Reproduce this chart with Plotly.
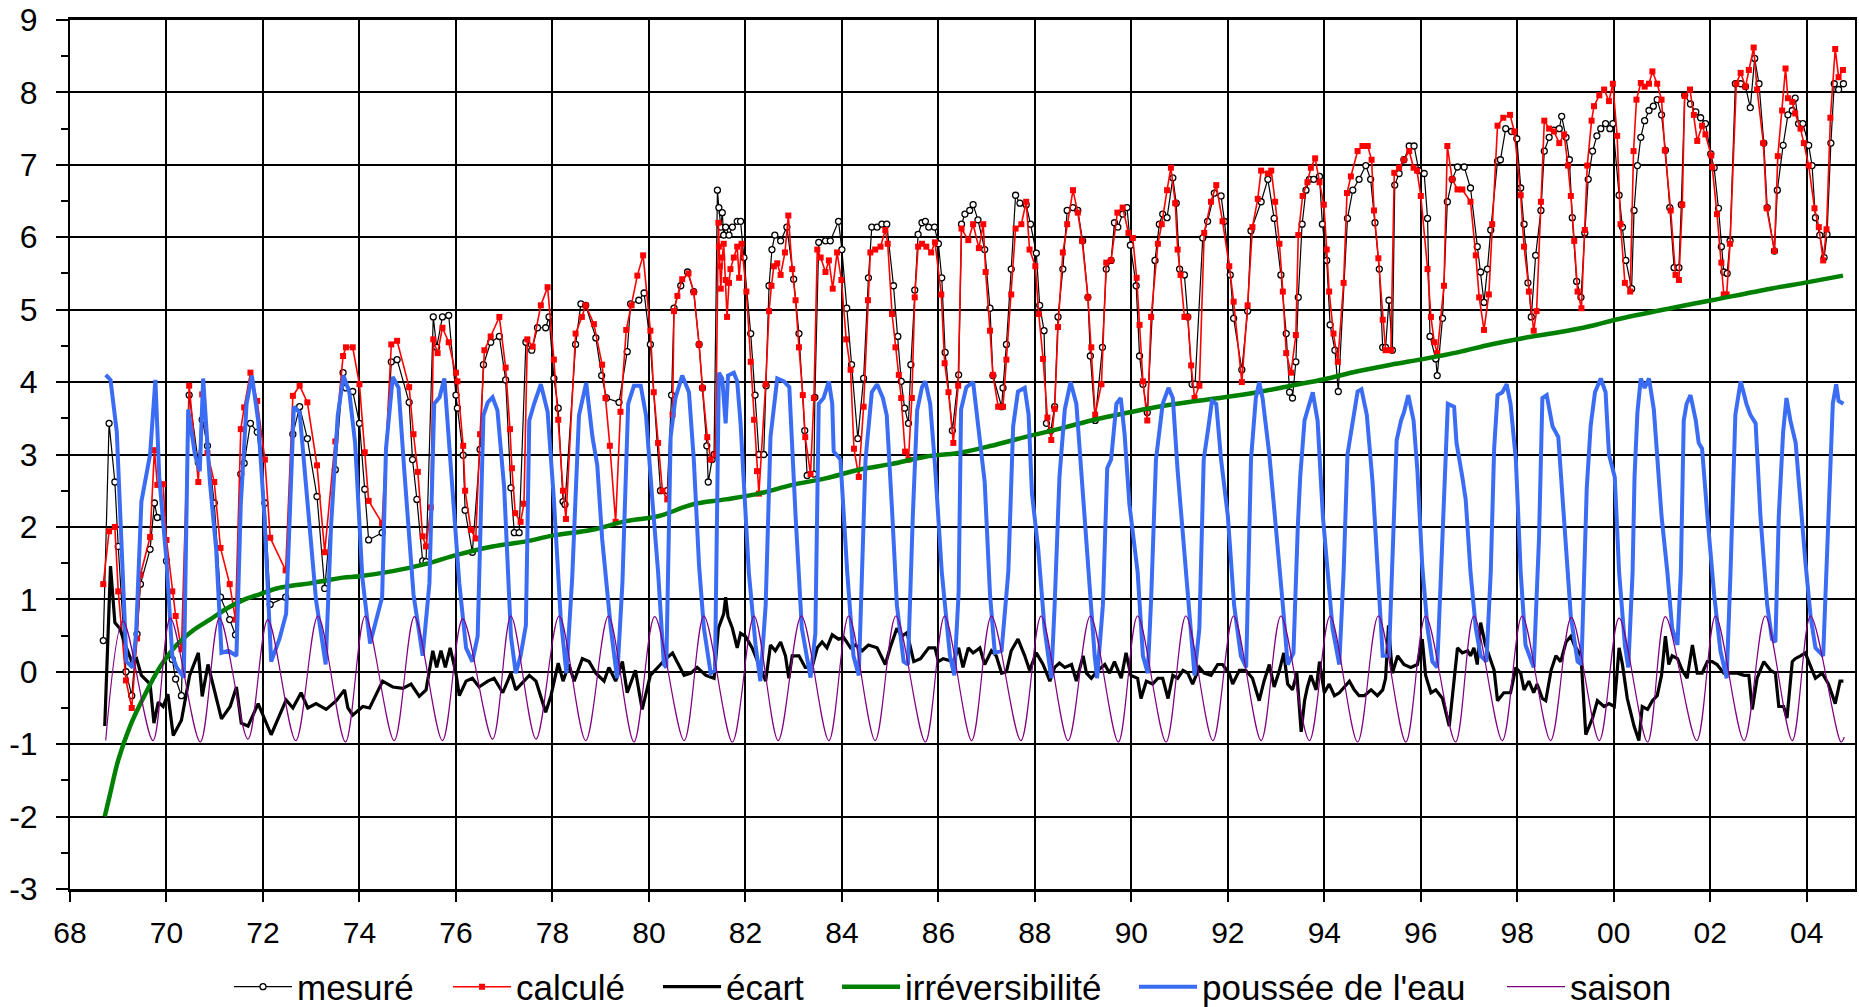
import plotly.graph_objects as go

# ---------------- data ----------------
t_mesure = [68.69, 68.81, 68.93, 69.0, 69.16, 69.28, 69.39, 69.46, 69.66, 69.75, 69.81, 69.93, 70.0, 70.12, 70.19, 70.31,
            70.47, 70.66, 70.74, 70.85, 70.99, 71.12, 71.31, 71.43, 71.54, 71.61, 71.74, 71.88, 72.04, 72.15, 72.47, 72.62,
            72.76, 72.92, 73.12, 73.28, 73.5, 73.66, 73.72, 73.86, 74.0, 74.11,
            74.19, 74.47, 74.66, 74.78, 75.03, 75.1, 75.19, 75.31, 75.38, 75.53, 75.6, 75.72, 75.85, 76.0, 76.03, 76.15,
            76.19, 76.34, 76.5, 76.57, 76.72, 76.9, 77.03, 77.14, 77.21, 77.31, 77.45, 77.57, 77.69, 77.86, 77.93, 78.03,
            78.12, 78.22, 78.26, 78.48, 78.59, 78.69, 78.9, 79.02, 79.12, 79.38, 79.55, 79.62, 79.79, 79.9, 80.03, 80.24, 80.38,
            80.47, 80.52, 80.66, 80.8, 80.93, 81.04, 81.11, 81.2, 81.23, 81.31, 81.35, 81.42, 81.45, 81.49, 81.52, 81.55,
            81.59, 81.66, 81.73, 81.83, 81.9, 81.97, 82.11, 82.2, 82.28, 82.38, 82.43, 82.49, 82.55, 82.61, 82.73, 82.86,
            83.0, 83.11, 83.23, 83.28, 83.42, 83.44, 83.52, 83.66, 83.76, 83.93, 84.0, 84.1, 84.2, 84.33, 84.45, 84.55,
            84.62, 84.73, 84.83, 84.93, 85.07, 85.16, 85.23, 85.3, 85.38, 85.43, 85.51, 85.58, 85.66, 85.73, 85.8, 85.92,
            86.0, 86.07, 86.14, 86.29,
            86.42, 86.48, 86.55, 86.65, 86.72, 86.82, 86.96, 87.07, 87.13, 87.31, 87.34, 87.41, 87.51, 87.6, 87.69, 87.82,
            87.91, 88.03, 88.1, 88.19, 88.24, 88.33, 88.41, 88.48, 88.58, 88.67, 88.79, 88.89, 88.99, 89.1, 89.15, 89.25,
            89.4, 89.48, 89.58, 89.65, 89.72, 89.82, 89.91, 89.98, 90.1, 90.17, 90.24, 90.33, 90.49, 90.58, 90.65, 90.74,
            90.86, 90.93, 91.0, 91.1, 91.17, 91.26, 91.32, 91.48, 91.58, 91.72, 91.86, 91.93, 92.05, 92.12, 92.29, 92.41, 92.48,
            92.69, 92.83, 92.96, 93.1, 93.21, 93.28, 93.34, 93.41, 93.46, 93.54, 93.62, 93.69, 93.78, 93.9, 93.96, 94.05,
            94.12, 94.22, 94.29, 94.48, 94.59, 94.72, 94.86, 94.96, 95.05, 95.14, 95.21, 95.27, 95.34, 95.41, 95.46, 95.55,
            95.65, 95.76, 95.86, 95.96, 96.07, 96.14, 96.19, 96.31, 96.34, 96.45, 96.55, 96.65, 96.76, 96.9, 97.03, 97.17,
            97.24, 97.31, 97.38, 97.45, 97.59, 97.65, 97.76, 97.88, 97.99, 98.07, 98.14, 98.22, 98.29, 98.38,
            98.49, 98.56, 98.66, 98.76, 98.87, 98.92, 99.01, 99.08, 99.14, 99.23, 99.32, 99.4, 99.47, 99.56, 99.65, 99.73,
            99.83, 99.92, 99.98, 100.11, 100.18, 100.25, 100.37, 100.42, 100.49, 100.56, 100.64, 100.73, 100.82, 100.9,
            100.99, 101.07, 101.16, 101.25, 101.35, 101.4, 101.47, 101.59, 101.7, 101.8, 101.9, 102.01, 102.08, 102.17,
            102.23, 102.28, 102.35, 102.41, 102.52, 102.63, 102.73, 102.83, 102.92, 103.01, 103.11, 103.18, 103.33, 103.39,
            103.51, 103.61, 103.7, 103.76, 103.83, 103.92, 104.04, 104.11, 104.18, 104.27, 104.36, 104.42, 104.5, 104.57,
            104.66, 104.76]
mesure = [0.43, 3.43, 2.62, 1.73, 0.0, -0.33, 0.52, 1.21, 1.69, 2.33, 2.13, 2.13, 1.53, 0.17, -0.1, -0.33,
          3.82, 2.89, 3.48, 3.12, 2.33, 1.03, 0.72, 0.51, 2.73, 2.88, 3.43, 3.31, 2.33, 0.93, 1.03, 3.28,
          3.66, 3.22, 2.42, 1.15, 2.79, 4.13, 3.92, 3.87, 3.43, 2.52,
          1.82, 1.92, 4.28, 4.31, 3.72, 2.93, 2.38, 1.53, 1.52, 4.9, 4.48, 4.9, 4.92, 3.82, 3.64, 2.99,
          2.23, 1.65, 3.07, 4.24, 4.55, 4.63, 4.03, 2.54, 1.92, 1.92, 4.55, 4.44, 4.75, 4.75, 4.9, 4.05,
          3.64, 2.35, 2.31, 4.52, 5.08, 5.06, 4.61, 4.09, 3.78, 3.72, 4.42, 5.08, 5.13, 5.23, 4.52, 2.5, 2.5,
          3.82, 5.02, 5.33, 5.52, 5.25, 4.52, 3.92, 3.12, 2.62, 2.93, 3.0, 6.65, 6.41, 6.14, 6.34, 6.03,
          6.14, 6.03, 6.14, 6.22, 6.22, 5.72, 4.67, 3.82, 3.0, 3.0, 3.95, 5.33, 5.83, 6.03, 5.95, 6.14,
          5.42, 4.67, 3.33, 2.71, 2.73, 3.79, 5.93, 5.95, 5.95, 6.22, 5.83, 5.02, 4.24, 3.22, 4.05, 5.44,
          6.14, 6.14, 6.18, 6.18, 5.33, 4.63, 4.01, 3.64, 3.43, 4.24, 5.27, 6.04, 6.2, 6.22, 6.14, 6.14,
          5.91, 5.44, 4.41, 3.33,
          4.1, 6.18, 6.32, 6.37, 6.45, 6.24, 5.83, 5.02, 4.09, 3.66, 3.92, 4.52, 5.56, 6.58, 6.47, 6.45,
          6.18, 5.78, 5.06, 4.71, 3.43, 3.33, 3.66, 4.9, 5.56, 6.37, 6.41, 6.37, 5.95, 5.17, 4.36, 3.47,
          4.48, 5.56, 5.68, 6.2, 6.14, 6.32, 6.41, 5.89, 5.33, 4.36, 3.97, 3.58, 5.68, 6.18, 6.32, 6.27,
          6.82, 6.47, 5.56, 5.48, 4.9, 3.97, 3.97, 5.99, 6.22, 6.61, 6.57, 6.22, 5.48, 4.88, 4.17, 4.98, 6.09,
          6.49, 6.8, 6.26, 5.48, 4.67, 3.86, 3.78, 4.28, 5.17, 6.18, 6.65, 6.8, 6.8, 6.84, 6.18, 5.68,
          4.79, 4.44, 3.87, 6.26, 6.65, 6.8, 6.99, 6.8, 6.2, 5.56, 4.48, 4.48, 5.13, 4.44, 6.72, 6.88,
          7.07, 7.26, 7.26, 6.92, 6.88, 6.26, 4.63, 4.32, 4.09, 4.88, 6.49, 6.8, 6.97, 6.97, 6.68, 5.87,
          5.52, 5.1, 5.56, 6.1, 7.05, 7.07, 7.5, 7.46, 7.36, 6.68, 6.18, 5.37, 4.9, 5.75,
          6.37, 7.19, 7.38, 7.48, 7.5, 7.67, 7.38, 7.07, 6.27, 5.39, 5.17, 6.06, 6.8, 7.19, 7.4, 7.5,
          7.57, 7.5, 7.57, 6.58, 6.14, 5.68, 5.29, 6.37, 6.99, 7.38, 7.61, 7.75, 7.81, 7.9,
          7.69, 7.2, 6.41, 5.58, 5.58, 6.45, 7.96, 7.84, 7.73, 7.65, 7.57, 7.15, 6.96, 6.4,
          5.87, 5.52, 5.5, 5.95, 8.12, 8.12, 8.08, 7.79, 8.47, 8.12, 7.3, 6.41, 5.81, 6.65,
          7.27, 7.69, 7.75, 7.92, 7.57, 7.57, 7.27, 6.99, 6.27, 6.03, 5.72, 6.04, 7.3, 8.12,
          8.04, 8.12]

t_calcule = [68.69, 68.81, 68.93, 69.0, 69.16, 69.28, 69.39, 69.46, 69.66, 69.75, 69.81, 69.93, 70.0, 70.12, 70.19, 70.31,
             70.47, 70.66, 70.74, 70.85, 70.99, 71.12, 71.31, 71.43, 71.54, 71.61, 71.74, 71.88, 72.04, 72.15, 72.47, 72.62,
             72.76, 72.92, 73.12, 73.28, 73.5, 73.66, 73.72, 73.86, 74.0, 74.11,
             74.19, 74.47, 74.66, 74.78, 75.03, 75.12, 75.21, 75.31, 75.38, 75.48, 75.53, 75.62, 75.72, 75.85, 76.0, 76.03,
             76.15, 76.19, 76.31, 76.41, 76.5, 76.59, 76.72, 76.9, 77.03, 77.12, 77.16, 77.23, 77.34, 77.41, 77.48, 77.59,
             77.76, 77.9, 78.03, 78.12, 78.22, 78.28, 78.48, 78.61, 78.69, 78.86, 79.03, 79.1, 79.19, 79.31, 79.41, 79.53,
             79.64, 79.76, 79.88, 80.03, 80.1, 80.19, 80.28, 80.38,
             80.49, 80.52, 80.59, 80.69, 80.82, 80.93, 81.04, 81.11, 81.21, 81.28, 81.38, 81.44, 81.45, 81.47, 81.49, 81.52,
             81.55, 81.59, 81.62, 81.66, 81.69, 81.76, 81.83, 81.87, 81.92, 82.02, 82.11, 82.18, 82.24, 82.28, 82.42, 82.49,
             82.54, 82.59, 82.66, 82.73, 82.82, 82.89, 82.97, 83.04, 83.11, 83.19, 83.24, 83.35, 83.42, 83.49, 83.56, 83.66,
             83.73, 83.81, 83.9, 83.99, 84.09, 84.18, 84.25, 84.35, 84.45, 84.54, 84.59, 84.69, 84.8, 84.9, 84.95, 85.04,
             85.11, 85.18, 85.23, 85.31, 85.38, 85.45, 85.51, 85.58, 85.66, 85.75, 85.85, 85.93, 86.06, 86.13, 86.21, 86.31,
             86.41, 86.48, 86.62, 86.72, 86.84, 86.93, 86.98, 87.07, 87.13, 87.24, 87.34, 87.41, 87.51, 87.6, 87.72, 87.82,
             87.89, 88.01, 88.08, 88.17, 88.26, 88.34, 88.41, 88.48, 88.58, 88.67, 88.79, 88.89, 88.98, 89.1, 89.17, 89.25,
             89.38, 89.48, 89.58, 89.71, 89.82, 89.94, 90.03, 90.11, 90.17, 90.24, 90.33, 90.41, 90.55, 90.63, 90.74, 90.82,
             90.91, 90.96, 91.02, 91.1, 91.17, 91.24, 91.31, 91.41, 91.51, 91.65, 91.76, 91.89, 92.03, 92.12, 92.29, 92.41,
             92.51, 92.62, 92.69, 92.83, 92.9, 92.98, 93.07, 93.14, 93.21, 93.31, 93.41, 93.46, 93.55, 93.65, 93.72, 93.81,
             93.9, 93.99, 94.05, 94.1, 94.19, 94.28, 94.4, 94.47, 94.55, 94.69, 94.79, 94.9, 94.98, 95.03, 95.12, 95.21,
             95.27, 95.38, 95.45, 95.55, 95.65, 95.76, 95.85, 95.92, 96.0, 96.14, 96.21, 96.28, 96.34, 96.48, 96.55, 96.65,
             96.76, 96.86, 97.03, 97.14, 97.21, 97.31, 97.41, 97.48, 97.59, 97.71, 97.85, 97.94, 98.07, 98.14, 98.24, 98.34, 98.4,
             98.49, 98.56, 98.66, 98.76, 98.87, 98.97, 99.05, 99.11, 99.18, 99.25, 99.33, 99.4, 99.45, 99.54, 99.59, 99.7,
             99.8, 99.9, 99.98, 100.07, 100.14, 100.23, 100.34, 100.41, 100.47, 100.56, 100.64, 100.73, 100.8, 100.9,
             100.99, 101.06, 101.18, 101.28, 101.35, 101.42, 101.47, 101.58, 101.66, 101.73, 101.83, 101.9, 102.02, 102.04,
             102.14, 102.23, 102.28, 102.34, 102.41, 102.54, 102.63, 102.73, 102.8, 102.9, 102.97, 103.1, 103.17, 103.33,
             103.4, 103.49, 103.56, 103.61, 103.7, 103.76, 103.87, 103.94, 104.04, 104.16, 104.25, 104.34, 104.41, 104.49,
             104.59, 104.66, 104.75]
calcule = [1.21, 1.94, 2.0, 1.11, -0.12, -0.5, 0.46, 1.34, 1.86, 3.06, 2.58, 2.59, 1.82, 1.11, 0.77, 0.31,
           3.95, 2.62, 3.83, 3.02, 2.62, 1.71, 1.21, 0.72, 3.35, 3.65, 4.13, 3.74, 2.93, 1.85, 1.4, 3.81,
           3.95, 3.72, 2.85, 1.65, 3.18, 4.36, 4.48, 4.48, 3.97, 3.03,
           2.36, 2.05, 4.52, 4.57, 3.93, 3.28, 2.76, 1.87, 1.73, 2.27, 4.59, 4.4, 4.75, 4.55, 4.13, 4.01,
           3.12, 2.5, 1.96, 1.84, 3.28, 4.44, 4.63, 4.9, 4.2, 3.35, 2.81, 2.19, 2.07, 2.32, 4.59, 4.49,
           5.06, 5.31, 4.31, 3.48, 2.5, 2.11, 4.67, 4.9, 5.06, 4.8, 4.24, 3.78, 3.12, 2.07, 3.59, 4.72,
           5.06, 5.47, 5.75, 4.71, 3.86, 3.16, 2.5, 2.38,
           3.55, 4.98, 5.19, 5.42, 5.5, 5.24, 4.52, 3.92, 3.24, 2.93, 3.0, 6.2, 5.87, 5.6, 5.29, 5.72,
           5.91, 5.41, 4.9, 5.37, 5.56, 5.72, 5.87, 5.44, 5.91, 5.25, 4.28, 3.48, 2.77, 2.46, 3.97, 4.98,
           5.33, 5.6, 5.64, 5.48, 5.79, 6.3, 5.56, 5.13, 4.48, 3.82, 3.24, 2.73, 3.78, 5.83, 5.72, 5.52,
           5.68, 5.29, 5.79, 5.41, 4.59, 4.17, 3.08, 2.69, 3.66, 5.13, 5.79, 5.83, 5.87, 6.1, 5.91, 4.94,
           4.48, 4.1, 3.78, 3.04, 2.93, 3.78, 5.17, 5.87, 5.91, 5.87, 5.79, 5.93, 5.21, 4.26, 3.86, 3.16,
           3.95, 6.12, 5.96, 6.18, 5.85, 6.18, 5.52, 4.71, 4.1, 3.66, 3.66, 4.31, 5.21, 6.12, 6.18, 6.49,
           5.83, 5.6, 4.94, 4.32, 3.51, 3.2, 3.63, 4.76, 5.79, 6.18, 6.65, 6.34, 5.95, 5.17, 4.48, 3.55,
           3.97, 5.65, 5.68, 6.34, 6.41, 6.06, 5.99, 5.44, 4.79, 4.01, 3.47, 4.9, 5.91, 6.18, 6.65, 6.96,
           6.47, 5.83, 5.48, 4.9, 4.9, 4.23, 3.78, 3.95, 6.06, 6.49, 6.72, 6.22, 5.6, 5.11, 4.0, 5.06,
           6.14, 6.53, 6.92, 6.88, 6.92, 6.49, 5.91, 5.25, 4.4, 4.13, 4.65, 6.03, 6.57, 6.76, 6.96, 7.09,
           6.76, 6.45, 5.83, 5.25, 4.67, 4.28, 5.37, 6.61, 6.84, 7.19, 7.26, 7.26, 7.07, 6.37, 5.71, 4.86,
           4.44, 4.44, 6.89, 6.96, 7.07, 7.19, 6.96, 6.92, 6.57, 5.56, 4.9, 4.55, 4.4, 5.33, 7.26, 6.8,
           6.66, 6.66, 6.49, 5.75, 5.17, 4.72, 5.21, 6.18, 7.54, 7.65, 7.69, 7.46, 6.58, 5.87, 5.25, 4.71, 4.98,
           6.49, 7.61, 7.5, 7.46, 7.3, 7.42, 6.99, 6.57, 5.95, 5.25, 5.02, 6.1, 6.99, 7.61, 7.81, 7.96,
           8.04, 7.88, 8.12, 7.4, 6.18, 5.37, 5.25, 7.19, 7.9, 8.13, 8.08, 8.12, 8.29, 8.12,
           7.9, 7.2, 6.37, 5.48, 5.41, 6.45, 7.95, 8.04, 7.69, 7.33, 7.54, 7.42, 7.13, 6.97,
           6.32, 5.65, 5.21, 5.21, 5.91, 8.12, 8.27, 8.08, 8.31, 8.62, 8.04, 7.3, 6.4, 5.81,
           7.12, 7.75, 8.33, 7.92, 7.87, 7.71, 7.5, 7.3, 6.99, 6.4, 6.14, 5.68, 6.11, 7.65,
           8.6, 8.21, 8.31]

t_ecart = [68.72, 68.84, 68.93, 69.03, 69.17, 69.28, 69.38, 69.48, 69.66, 69.74, 69.83, 69.93, 70.03, 70.14, 70.31, 70.48,
           70.66, 70.74, 70.86, 70.99, 71.14, 71.32, 71.45, 71.55, 71.69, 71.9, 72.03, 72.17, 72.48, 72.62, 72.79, 72.93,
           73.1, 73.31, 73.52, 73.69, 73.76, 73.86, 74.07, 74.21, 74.48, 74.69, 74.9, 75.07, 75.24, 75.38, 75.52, 75.6,
           75.69, 75.78, 75.88, 76.0, 76.07, 76.21, 76.34, 76.48, 76.66, 76.79, 76.97, 77.14, 77.24, 77.52, 77.66, 77.86,
           77.97, 78.12, 78.22, 78.34, 78.45, 78.62, 78.76, 78.9, 79.07, 79.17, 79.31, 79.45, 79.55, 79.72, 79.86, 80.03,
           80.24, 80.35, 80.49, 80.59, 80.73, 80.87, 81.0, 81.18, 81.35, 81.44, 81.49, 81.55, 81.59, 81.64, 81.73, 81.83,
           81.9, 82.0, 82.14, 82.28, 82.42, 82.52, 82.62, 82.73, 82.83, 82.9, 82.97, 83.11, 83.24, 83.38, 83.49, 83.59,
           83.69, 83.8, 83.93, 84.04, 84.18, 84.28, 84.42, 84.55, 84.73, 84.9, 85.0, 85.14, 85.24, 85.35, 85.49, 85.63,
           85.8, 85.93, 86.0, 86.1, 86.31, 86.42, 86.51, 86.62, 86.72, 86.86, 86.96, 87.1, 87.2, 87.31, 87.41, 87.51,
           87.65, 87.79, 87.89, 88.03, 88.17, 88.31, 88.41, 88.51, 88.62, 88.76, 88.86, 89.0, 89.07, 89.17, 89.31, 89.45,
           89.55, 89.65, 89.79, 89.89, 89.99, 90.13, 90.2, 90.31, 90.44, 90.55, 90.65, 90.76, 90.86, 90.96, 91.07, 91.17,
           91.27, 91.41, 91.51, 91.65, 91.79, 91.89, 92.03, 92.1, 92.24, 92.37, 92.51, 92.65, 92.75, 92.86, 92.96, 93.07,
           93.16, 93.24, 93.34, 93.43, 93.52, 93.59, 93.65, 93.72, 93.83, 93.9, 94.0, 94.1, 94.21, 94.31, 94.41, 94.52,
           94.62, 94.72, 94.83, 94.97, 95.1, 95.21, 95.27, 95.33, 95.41, 95.52, 95.65, 95.79, 95.93, 96.03, 96.1, 96.21,
           96.31, 96.45, 96.59, 96.69, 96.76, 96.86, 96.97, 97.03, 97.1, 97.17, 97.24, 97.34, 97.45, 97.52, 97.59, 97.72,
           97.86, 97.97, 98.07, 98.14, 98.24, 98.34, 98.41, 98.52, 98.59, 98.7, 98.8, 98.9, 99.01, 99.11, 99.18, 99.32,
           99.42, 99.56, 99.66, 99.8, 99.9, 100.01, 100.11, 100.18, 100.28, 100.42, 100.52, 100.59, 100.7, 100.8, 100.9,
           100.99, 101.07, 101.14, 101.21, 101.32, 101.42, 101.52, 101.63, 101.73, 101.83, 101.94, 102.04, 102.14, 102.28,
           102.42, 102.56, 102.7, 102.8, 102.87, 102.97, 103.11, 103.25, 103.35, 103.42, 103.52, 103.59, 103.7, 103.76,
           103.87, 103.97, 104.04, 104.18, 104.32, 104.45, 104.59, 104.69, 104.76]
ecart = [-0.75, 1.46, 0.68, 0.6, 0.33, 0.14, 0.18, -0.05, -0.17, -0.71, -0.42, -0.48, -0.31, -0.88, -0.67, -0.05,
         0.26, -0.34, 0.1, -0.25, -0.65, -0.48, -0.21, -0.71, -0.75, -0.44, -0.64, -0.87, -0.39, -0.5, -0.29, -0.5,
         -0.44, -0.52, -0.4, -0.25, -0.5, -0.6, -0.48, -0.5, -0.13, -0.21, -0.23, -0.17, -0.34, -0.25, 0.29, 0.06,
         0.29, 0.06, 0.33, -0.02, -0.33, -0.13, -0.09, -0.21, -0.13, -0.09, -0.29, -0.02, -0.25, -0.05, -0.13, -0.56,
         -0.33, 0.12, -0.13, 0.1, -0.13, 0.18, 0.14, -0.02, -0.13, 0.06, -0.13, 0.14, -0.29, 0.02, -0.52, -0.05,
         0.1, 0.18, 0.26, 0.14, -0.05, -0.02, 0.06, -0.05, -0.09, 0.6, 0.68, 0.8, 1.03, 0.76, 0.6, 0.33,
         0.53, 0.49, 0.33, 0.1, -0.13, 0.37, 0.29, 0.41, 0.22, -0.09, 0.22, 0.22, 0.06, 0.06, 0.33, 0.41,
         0.33, 0.51, 0.45, 0.47, 0.33, 0.37, 0.29, 0.37, 0.33, 0.1, 0.33, 0.6, 0.49, 0.54, 0.14, 0.18,
         0.33, 0.33, 0.14, 0.18, 0.14, 0.33, 0.06, 0.33, 0.26, 0.33, 0.1, 0.29, 0.22, -0.02, 0.0, 0.29,
         0.45, 0.22, 0.02, 0.26, 0.1, -0.13, 0.06, 0.12, 0.06, 0.1, -0.13, 0.22, -0.02, -0.09, 0.02, 0.1,
         -0.02, 0.14, -0.09, 0.26, -0.05, -0.09, -0.37, -0.13, -0.17, -0.09, -0.09, -0.37, -0.05, -0.09, 0.02, -0.02,
         -0.17, 0.06, -0.02, -0.05, 0.1, 0.1, -0.02, -0.17, 0.02, 0.02, -0.09, -0.4, -0.13, 0.1, -0.21, 0.02,
         0.26, -0.17, -0.25, -0.02, -0.83, -0.4, -0.21, -0.05, -0.25, 0.14, -0.29, -0.17, -0.33, -0.29, -0.21, -0.13,
         -0.25, -0.33, -0.33, -0.25, -0.33, -0.25, -0.09, 0.64, -0.02, 0.22, 0.1, 0.06, 0.1, 0.45, -0.05, -0.29,
         -0.25, -0.37, -0.75, -0.09, 0.33, 0.26, 0.29, 0.22, 0.33, 0.1, 0.68, 0.37, 0.14, 0.02, -0.4, -0.29,
         -0.29, 0.06, -0.02, -0.25, -0.13, -0.29, -0.17, -0.37, -0.4, 0.02, 0.22, 0.14, 0.41, 0.49, 0.37, 0.22,
         -0.87, -0.64, -0.4, -0.48, -0.44, -0.48, 0.33, 0.1, -0.37, -0.75, -0.95, -0.48, -0.52, -0.4, -0.33,
         -0.05, 0.49, 0.1, 0.22, 0.18, 0.02, -0.09, 0.37, -0.02, -0.02, 0.14, 0.14, 0.1, -0.02,
         -0.02, -0.02, -0.05, -0.05, -0.52, -0.09, 0.14, 0.02, -0.02, -0.48, -0.48, -0.64, 0.14, 0.18,
         0.22, 0.26, 0.14, -0.09, -0.02, -0.17, -0.44, -0.13, -0.13]

t_irrev = [68.72, 68.83, 69.0, 69.24, 69.52, 69.86, 70.21, 70.55, 70.9, 71.24, 71.59, 71.93, 72.28, 72.62, 72.97, 73.31,
           73.66, 74.0, 74.69, 75.38, 76.0, 76.76, 77.45, 78.0, 78.83, 79.52, 80.21, 80.9, 81.59, 82.28, 82.97, 83.66,
           84.35, 85.04, 85.73, 86.41, 87.1, 87.79, 88.48, 89.17, 89.86, 90.55, 91.24, 91.93, 92.62, 93.31, 94.0, 94.69,
           95.38, 96.07, 96.76, 97.45, 98.14, 98.8, 99.5, 100.03, 101.18, 102.03, 103.25, 104.03, 104.75]
irrev = [-2.0, -1.69, -1.22, -0.76, -0.36, 0.06, 0.37, 0.57, 0.72, 0.87, 0.99, 1.07, 1.15, 1.19, 1.22, 1.26,
         1.3, 1.32, 1.39, 1.49, 1.61, 1.73, 1.8, 1.88, 1.96, 2.08, 2.15, 2.31, 2.38, 2.46, 2.58, 2.67,
         2.79, 2.87, 2.97, 3.02, 3.12, 3.24, 3.35, 3.47, 3.57, 3.66, 3.73, 3.79, 3.86, 3.95, 4.04, 4.15,
         4.24, 4.32, 4.41, 4.52, 4.61, 4.68, 4.77, 4.86, 5.02, 5.13, 5.29, 5.38, 5.47]

t_eau = [68.74, 68.84, 68.97, 69.07, 69.17, 69.3, 69.37, 69.48, 69.66, 69.77, 69.85, 70.0, 70.12, 70.21, 70.36, 70.45,
         70.59, 70.69, 70.76, 70.9, 71.03, 71.14, 71.28, 71.45, 71.54, 71.66, 71.77, 71.9, 72.03, 72.17, 72.34, 72.48,
         72.64, 72.76, 72.93, 73.1, 73.3, 73.41, 73.55, 73.67, 73.79, 73.91, 74.06, 74.22,
         74.47, 74.55, 74.69, 74.81, 74.93, 75.12, 75.31, 75.45, 75.55, 75.66, 75.76, 75.9, 76.07, 76.21, 76.34, 76.45,
         76.57, 76.66, 76.76, 76.86, 77.0, 77.14, 77.24, 77.34, 77.45, 77.52, 77.62, 77.76, 77.9, 78.03, 78.17, 78.29,
         78.41, 78.55, 78.7, 78.83, 78.93, 79.03, 79.21, 79.34, 79.45, 79.57, 79.69, 79.83, 79.94, 80.07, 80.19, 80.31,
         80.36, 80.45, 80.55, 80.69, 80.83, 80.93, 81.04, 81.14, 81.28, 81.37, 81.45, 81.52, 81.59, 81.64, 81.76, 81.83,
         81.9, 82.07, 82.21, 82.31, 82.42, 82.52, 82.59, 82.66, 82.8, 82.91, 83.04, 83.17, 83.35, 83.45, 83.52, 83.62,
         83.73, 83.8, 83.83, 83.97, 84.11, 84.24, 84.35, 84.49, 84.62, 84.73, 84.85, 84.93, 85.04, 85.14, 85.28, 85.37,
         85.47, 85.56, 85.66, 85.73, 85.83, 85.93, 86.07, 86.24, 86.33,
         86.42, 86.47, 86.58, 86.72, 86.82, 86.96, 87.07, 87.17, 87.31, 87.45, 87.55, 87.65, 87.79, 87.87, 87.94, 88.07,
         88.2, 88.34, 88.41, 88.51, 88.62, 88.74, 88.86, 88.96, 89.1, 89.24, 89.29, 89.41, 89.5, 89.58, 89.69, 89.78,
         89.86, 89.96, 90.13, 90.24, 90.34, 90.41, 90.51, 90.65, 90.77, 90.86, 90.96, 91.17, 91.31, 91.41, 91.5, 91.6,
         91.67, 91.76, 91.86, 92.0, 92.13, 92.27, 92.38, 92.48, 92.58,
         92.65, 92.72, 92.86, 93.0, 93.14, 93.24, 93.36, 93.45, 93.5, 93.59, 93.69, 93.76, 93.86, 93.97, 94.07, 94.17,
         94.31, 94.4, 94.48, 94.57, 94.69, 94.77, 94.88, 95.0, 95.1, 95.21, 95.34, 95.41, 95.5, 95.59, 95.65, 95.74,
         95.85, 95.93, 96.03, 96.14, 96.24, 96.34, 96.48, 96.56, 96.69, 96.74, 96.86, 96.93, 97.03, 97.14, 97.24, 97.36,
         97.45, 97.52, 97.59, 97.69, 97.78, 97.86, 97.97, 98.07, 98.17, 98.34, 98.45,
         98.52, 98.61, 98.73, 98.85, 98.97, 99.11, 99.25, 99.33, 99.44, 99.52, 99.61, 99.73, 99.83, 99.9, 100.02, 100.11,
         100.23, 100.3, 100.39, 100.43, 100.49, 100.56, 100.64, 100.73, 100.83, 100.9, 100.99, 101.11, 101.21, 101.32,
         101.39, 101.45, 101.51, 101.59, 101.7, 101.76, 101.83, 101.94, 102.08, 102.21, 102.34, 102.42, 102.52, 102.63,
         102.75, 102.83, 102.94, 103.04, 103.18, 103.28, 103.35, 103.42, 103.51, 103.58, 103.66, 103.77, 103.87, 103.97,
         104.08, 104.18, 104.34, 104.45, 104.54, 104.61, 104.66, 104.76]
eau = [4.1, 4.03, 3.31, 1.69, 0.14, 0.06, 0.53, 2.35, 3.0, 4.03, 2.69, 1.53, 0.22, 0.06, -0.08, 3.62,
       3.0, 2.77, 4.05, 2.62, 1.69, 0.26, 0.29, 0.22, 2.31, 3.7, 4.09, 3.47, 2.15, 0.14, 0.45, 0.8,
       3.66, 3.58, 2.31, 0.99, 0.1, 2.0, 3.54, 4.09, 3.86, 3.16, 1.3, 0.39,
       1.03, 3.08, 4.07, 3.92, 2.77, 1.07, 0.22, 1.22, 3.7, 3.79, 4.05, 2.69, 1.22, 0.33, 0.14, 0.49,
       3.54, 3.72, 3.79, 3.61, 2.54, 0.49, -0.02, 0.22, 0.64, 3.47, 3.7, 3.97, 3.59, 2.38, 0.76, -0.02,
       1.3, 3.54, 3.99, 3.24, 2.85, 1.84, 0.6, -0.09, 1.22, 3.7, 3.95, 3.95, 3.54, 2.38, 1.38, 0.1,
       0.06, 3.24, 3.78, 4.09, 3.86, 2.93, 1.46, 0.6, -0.02, 0.02, 4.13, 4.05, 3.43, 4.09, 4.13, 4.01,
       3.43, 1.38, 0.37, -0.13, 0.92, 3.24, 3.7, 4.05, 4.01, 3.93, 2.15, 0.6, -0.08, 0.53, 3.7, 3.78,
       4.01, 3.7, 3.04, 2.93, 1.38, 0.22, -0.05, 2.93, 3.86, 3.97, 3.78, 3.54, 2.23, 0.92, 0.14, 0.1,
       2.15, 3.61, 3.93, 4.01, 3.7, 2.85, 1.38, 0.22, -0.05,
       1.1, 3.62, 3.93, 4.0, 3.39, 2.62, 1.07, 0.26, 0.29, 1.38, 3.39, 3.87, 3.92, 3.55, 2.46, 1.69,
       0.6, -0.09, 0.92, 2.69, 3.62, 4.0, 3.7, 2.77, 1.38, 0.22, -0.09, 0.92, 2.81, 2.93, 3.7, 3.78,
       3.28, 2.31, 1.38, 0.22, -0.02, 1.0, 2.93, 3.7, 3.92, 3.78, 2.77, 1.07, -0.05, 0.6, 2.93, 3.39,
       3.74, 3.7, 2.93, 2.15, 0.92, 0.22, 0.06, 2.93, 3.78,
       4.0, 3.78, 3.0, 2.0, 0.92, 0.1, 0.26, 2.0, 2.69, 3.47, 3.7, 3.86, 3.47, 2.15, 1.38, 0.6,
       0.1, 1.38, 3.0, 3.39, 3.87, 3.9, 3.55, 2.62, 1.38, 0.22, 0.22, 1.38, 3.2, 3.47, 3.58, 3.82,
       3.47, 2.77, 1.46, 0.6, 0.14, 0.06, 2.54, 3.7, 3.66, 3.16, 2.69, 2.38, 1.38, 0.6, 0.22, 0.14,
       1.38, 3.08, 3.82, 3.86, 3.97, 3.7, 2.93, 1.38, 0.37, 0.06, 1.84,
       3.78, 3.82, 3.39, 3.24, 2.15, 0.76, 0.14, 0.1, 2.54, 3.39, 3.86, 4.05, 3.86, 3.0, 2.69, 1.38,
       0.37, 0.06, 1.38, 2.69, 3.58, 4.05, 3.92, 4.05, 3.62, 2.93, 2.15, 1.38, 0.6, 0.37,
       1.38, 3.47, 3.7, 3.82, 3.47, 3.16, 3.08, 2.15, 1.07, 0.29, -0.09, 1.38, 3.55, 4.01,
       3.7, 3.55, 3.43, 2.15, 0.92, 0.45, 0.41, 2.15, 3.31, 3.78, 3.47, 3.16, 2.31, 1.53,
       0.76, 0.33, 0.22, 2.15, 3.7, 3.97, 3.74, 3.7]

t_saison = [68.74, 69.1, 69.72, 70.08, 70.7, 71.1, 71.69, 72.1, 72.68, 73.14, 73.71, 74.12, 74.72, 75.14, 75.72, 76.14,
            76.76, 77.14, 77.66, 78.14, 78.69, 79.16, 79.69, 80.12, 80.73, 81.14, 81.73, 82.18, 82.68, 83.16, 83.73, 84.14,
            84.69, 85.12, 85.73, 86.13, 86.69, 87.1, 87.71, 88.13, 88.69, 89.15, 89.73, 90.13, 90.72, 91.13, 91.69, 92.12,
            92.69, 93.1, 93.69, 94.12, 94.69, 95.12, 95.69, 96.1, 96.72, 97.1, 97.69, 98.1, 98.69, 99.12, 99.7, 100.11,
            100.7, 101.07, 101.72, 102.11, 102.7, 103.14, 103.7, 104.08, 104.71, 104.78]
saison = [-0.95, 0.7, -0.95, 0.74, -0.97, 0.74, -0.93, 0.72, -0.95, 0.77, -0.97, 0.77, -0.95, 0.76, -0.95, 0.73,
          -0.93, 0.77, -0.93, 0.77, -0.95, 0.77, -0.97, 0.76, -0.95, 0.77, -0.97, 0.77, -0.95, 0.77, -0.95, 0.77,
          -0.95, 0.77, -0.97, 0.77, -0.95, 0.77, -0.95, 0.77, -0.95, 0.77, -0.97, 0.77, -0.97, 0.77, -0.95, 0.77,
          -0.95, 0.77, -0.95, 0.77, -0.97, 0.77, -0.97, 0.77, -0.97, 0.77, -0.95, 0.77, -0.95, 0.75, -0.95, 0.74,
          -0.97, 0.76, -0.95, 0.77, -0.95, 0.77, -0.95, 0.77, -0.97, -0.9]

x_tick_vals = [68, 70, 72, 74, 76, 78, 80, 82, 84, 86, 88, 90, 92, 94, 96, 98, 100, 102, 104]
x_tick_text = ["68", "70", "72", "74", "76", "78", "80", "82", "84", "86", "88", "90", "92", "94", "96", "98",
               "00", "02", "04"]
y_tick_vals = [-3, -2, -1, 0, 1, 2, 3, 4, 5, 6, 7, 8, 9]
y_tick_text = ["-3", "-2", "-1", "0", "1", "2", "3", "4", "5", "6", "7", "8", "9"]

series_names = ["mesuré", "calculé", "écart", "irréversibilité", "poussée de l'eau", "saison"]
legend_left_px = [229, 448, 658, 837, 1134, 1502]   # left edge of each legend entry in the page

# ---------------- figure ----------------
FONT = "Liberation Sans, Arial, sans-serif"
fig = go.Figure()

fig.add_trace(go.Scatter(x=t_mesure, y=mesure, name=series_names[0], mode="lines+markers", legend="legend",
                         line=dict(color="black", width=1.2),
                         marker=dict(symbol="circle", size=6, color="white",
                                     line=dict(color="black", width=1.3))))
fig.add_trace(go.Scatter(x=t_calcule, y=calcule, name=series_names[1], mode="lines+markers", legend="legend2",
                         line=dict(color="#ff0000", width=1.6),
                         marker=dict(symbol="square", size=6, color="#ff0000")))
fig.add_trace(go.Scatter(x=t_ecart, y=ecart, name=series_names[2], mode="lines", legend="legend3",
                         line=dict(color="black", width=3.2)))
fig.add_trace(go.Scatter(x=t_irrev, y=irrev, name=series_names[3], mode="lines", legend="legend4",
                         line=dict(color="#008000", width=4.5, shape="spline")))
fig.add_trace(go.Scatter(x=t_eau, y=eau, name=series_names[4], mode="lines", legend="legend5",
                         line=dict(color="#3a6cf4", width=4)))
fig.add_trace(go.Scatter(x=t_saison, y=saison, name=series_names[5], mode="lines", legend="legend6",
                         line=dict(color="#800080", width=1.2, shape="spline", smoothing=0.9)))

W, H = 1859, 1007
legends = {}
for i, px in enumerate(legend_left_px):
    key = "legend" if i == 0 else "legend%d" % (i + 1)
    legends[key] = dict(orientation="h", xref="container", x=px / W, xanchor="left",
                        yref="container", y=0.0199, yanchor="middle",
                        font=dict(family=FONT, size=35, color="black"), itemwidth=58,
                        bgcolor="rgba(0,0,0,0)", borderwidth=0)

fig.update_layout(
    width=W, height=H,
    margin=dict(l=70, r=2, t=19, b=118),
    paper_bgcolor="white", plot_bgcolor="white",
    font=dict(family=FONT, color="black"),
    showlegend=True,
    xaxis=dict(range=[68, 105], tickvals=x_tick_vals, ticktext=x_tick_text,
               showgrid=True, gridcolor="black", gridwidth=1.5,
               showline=True, linecolor="black", linewidth=2.5, mirror=True,
               ticks="outside", ticklen=10, tickwidth=1.5, tickcolor="black",
               tickfont=dict(family=FONT, size=30, color="black"), ticklabelstandoff=5,
               zeroline=False),
    yaxis=dict(range=[-3, 9], tickvals=y_tick_vals, ticktext=y_tick_text,
               showgrid=True, gridcolor="black", gridwidth=1.5,
               showline=True, linecolor="black", linewidth=2, mirror=True,
               ticks="outside", ticklen=12, tickwidth=1.5, tickcolor="black",
               tickfont=dict(family=FONT, size=32, color="black"), ticklabelstandoff=12,
               minor=dict(dtick=0.5, tick0=0, ticks="outside", ticklen=7, tickwidth=1.5, tickcolor="black",
                          showgrid=False),
               zeroline=False),
    **legends,
)

fig.write_html("out.html", config={"displayModeBar": False},
               post_script="document.body.style.margin='0px';document.body.style.overflow='hidden';")
